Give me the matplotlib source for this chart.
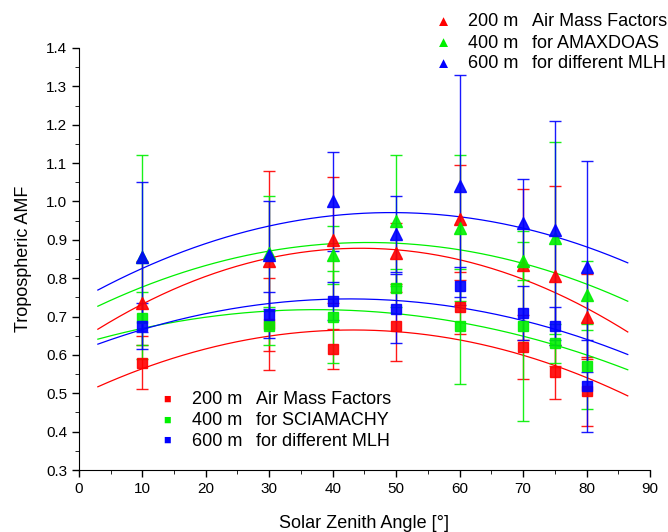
import numpy as np
import matplotlib.pyplot as plt

plt.rcParams['font.family'] = ['Liberation Sans', 'DejaVu Sans']

sza = [10, 30, 40, 50, 60, 70, 75, 80]
mlh = ["200 m", "400 m", "600 m"]
colors = ["#ff0000", "#00f000", "#0000ff"]

# AMAXDOAS (triangles)
max_amf = [
    [0.735, 0.845, 0.900, 0.865, 0.955, 0.835, 0.805, 0.700],
    [0.855, 0.865, 0.860, 0.950, 0.930, 0.845, 0.905, 0.755],
    [0.855, 0.860, 1.000, 0.915, 1.040, 0.945, 0.925, 0.830],
]
max_err = [
    [0.110, 0.235, 0.164, 0.080, 0.140, 0.197, 0.235, 0.110],
    [0.265, 0.150, 0.076, 0.170, 0.190, 0.050, 0.250, 0.090],
    [0.195, 0.140, 0.130, 0.100, 0.290, 0.113, 0.285, 0.275],
]

# SCIAMACHY (squares)
sci_amf = [
    [0.580, 0.680, 0.615, 0.675, 0.725, 0.620, 0.555, 0.505],
    [0.695, 0.675, 0.700, 0.775, 0.675, 0.675, 0.630, 0.570],
    [0.675, 0.705, 0.740, 0.720, 0.780, 0.710, 0.675, 0.520],
]
sci_err = [
    [0.070, 0.120, 0.052, 0.090, 0.070, 0.083, 0.070, 0.090],
    [0.070, 0.050, 0.120, 0.050, 0.150, 0.247, 0.050, 0.110],
    [0.060, 0.060, 0.050, 0.090, 0.050, 0.070, 0.050, 0.120],
]

# quadratic fit curves (vertex form): peak SZA, peak AMF, curvature
max_fit_x0 = [44.4, 45.6, 49.25]
max_fit_peak = [0.878, 0.893, 0.971]
max_fit_k = [-1.231e-4, -9.15e-5, -9.44e-5]
sci_fit_x0 = [43.2, 37.4, 42.6]
sci_fit_peak = [0.665, 0.718, 0.746]
sci_fit_k = [-9.16e-5, -6.5e-5, -7.52e-5]

fig = plt.figure(figsize=(6.68, 5.32), dpi=100)
ax = fig.add_axes([0.118, 0.1165, 0.855, 0.7933])

xfit = np.linspace(3, 86.5, 200)
for i in range(3):
    c = colors[i]
    ax.errorbar(sza, max_amf[i], yerr=max_err[i], fmt='^', color=c, ms=9,
                capsize=4, elinewidth=1, capthick=1, alpha=0.9)
    ax.errorbar(sza, sci_amf[i], yerr=sci_err[i], fmt='s', color=c, ms=7,
                capsize=4, elinewidth=1, capthick=1, alpha=0.9)
    ax.plot(xfit, max_fit_peak[i] + max_fit_k[i] * (xfit - max_fit_x0[i]) ** 2,
            color=c, lw=0.9)
    ax.plot(xfit, sci_fit_peak[i] + sci_fit_k[i] * (xfit - sci_fit_x0[i]) ** 2,
            color=c, lw=0.9)

ax.set_xlim(0, 90)
ax.set_ylim(0.3, 1.4)
ax.set_xticks(np.arange(0, 91, 10))
ax.set_xticks(np.arange(0, 91, 5), minor=True)
ax.set_yticks(np.arange(0.3, 1.41, 0.1))
ax.set_yticks(np.arange(0.3, 1.41, 0.05), minor=True)
ax.yaxis.set_major_formatter(plt.FormatStrFormatter('%.1f'))
ax.spines['top'].set_visible(False)
ax.spines['right'].set_visible(False)
ax.tick_params(labelsize=11, length=5, width=1)
ax.tick_params(which='minor', length=3)
ax.set_xlabel("Solar Zenith Angle [°]", fontsize=13, labelpad=14)
ax.set_ylabel("Tropospheric AMF", fontsize=13, labelpad=10)

# legends as text
top_txt = ["Air Mass Factors", "for AMAXDOAS", "for different MLH"]
bot_txt = ["Air Mass Factors", "for SCIAMACHY", "for different MLH"]
for i in range(3):
    y = 1 - (22 + 21 * i) / 532
    fig.text(443 / 668, y, "▲", color=colors[i], fontsize=11, ha='center', va='center')
    fig.text(468 / 668, y, mlh[i], fontsize=13, va='center')
    fig.text(532 / 668, y, top_txt[i], fontsize=13, va='center')
    y = 1 - (400 + 20.5 * i) / 532
    fig.text(167 / 668, y, "■", color=colors[i], fontsize=9, ha='center', va='center')
    fig.text(192 / 668, y, mlh[i], fontsize=13, va='center')
    fig.text(256 / 668, y, bot_txt[i], fontsize=13, va='center')

plt.savefig("out.png", dpi=100)
